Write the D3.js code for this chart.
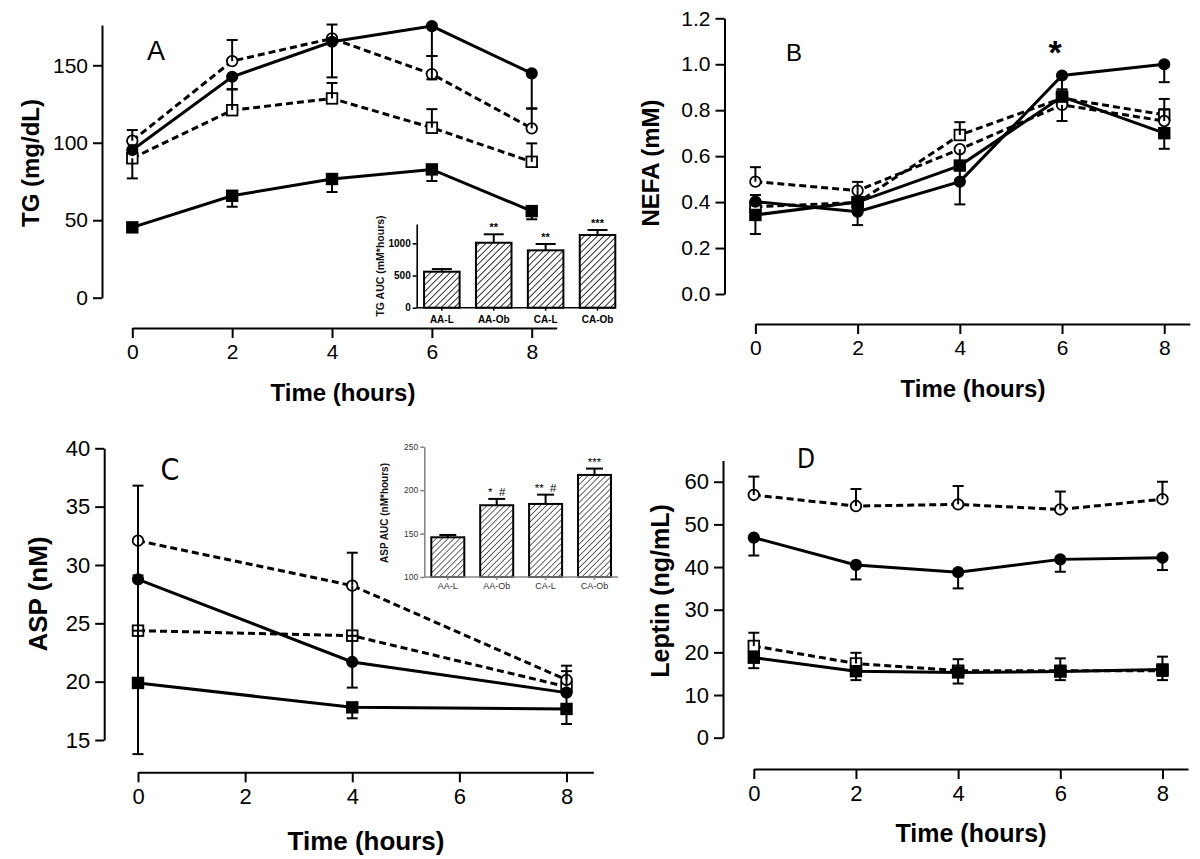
<!DOCTYPE html>
<html>
<head>
<meta charset="utf-8">
<script src="https://cdn.jsdelivr.net/npm/d3@7"></script>
<style>
body { margin: 0; background: #fff; }
svg { display: block; }
</style>
</head>
<body>
<svg id="fig" width="1200" height="859"></svg>
<script>
var hours = [0, 2, 4, 6, 8]
var hoursC = [0, 4, 8]
var groups = ['AA-L', 'AA-Ob', 'CA-L', 'CA-Ob']
var xTicks = [0, 2, 4, 6, 8]

// A: TG (mg/dL)
var tgAAL = [45.4, 65.8, 76.6, 82.8, 55.9]
var tgAALUp = [0, 0, 0, 0, 0]
var tgAALDn = [0, 7.1, 8.4, 7.5, 5.3]
var tgAAOb = [95.3, 142.6, 165.2, 175.3, 144.8]
var tgAAObUp = [0, 0, 0, 0, 0]
var tgAAObDn = [0, 8, 23, 19.3, 22.6]
var tgCAL = [90, 121, 128.6, 109.7, 87.7]
var tgCALUp = [0, 13.4, 10, 12, 11.9]
var tgCALDn = [13, 0, 0, 0, 0]
var tgCAOb = [101.3, 152.7, 167.3, 144.3, 109.3]
var tgCAObUp = [6.9, 13.6, 9, 11.7, 12.7]
var tgCAObDn = [0, 0, 0, 3.4, 0]
var tgTicks = [0, 50, 100, 150]

// B: NEFA (mM)
var nefaAAL = [0.344, 0.40, 0.559, 0.859, 0.70]
var nefaAALUp = [0, 0, 0.02, 0.032, 0]
var nefaAALDn = [0.083, 0, 0.07, 0, 0.068]
var nefaAAOb = [0.402, 0.358, 0.489, 0.951, 1.0]
var nefaAAObUp = [0.029, 0, 0, 0, 0]
var nefaAAObDn = [0, 0.058, 0.099, 0.07, 0.078]
var nefaCAL = [0.38, 0.398, 0.692, 0.852, 0.78]
var nefaCALUp = [0, 0, 0.056, 0, 0.069]
var nefaCALDn = [0, 0, 0, 0, 0]
var nefaCAOb = [0.489, 0.45, 0.63, 0.823, 0.753]
var nefaCAObUp = [0.063, 0.038, 0, 0, 0.051]
var nefaCAObDn = [0, 0.05, 0.07, 0.07, 0]
var nefaTicks = [0, 0.2, 0.4, 0.6, 0.8, 1.0, 1.2]

// C: ASP (nM)
var aspAAL = [19.89, 17.8, 17.66]
var aspAALUp = [0, 0, 0]
var aspAALDn = [6.1, 0.94, 1.29]
var aspAAOb = [28.77, 21.69, 19.06]
var aspAAObUp = [0.33, 0, 0]
var aspAAObDn = [4.4, 2.2, 1.4]
var aspCAL = [24.37, 23.94, 19.57]
var aspCALUp = [0, 0, 1.33]
var aspCALDn = [4.5, 2.25, 0]
var aspCAOb = [32.08, 28.23, 20.15]
var aspCAObUp = [4.72, 2.82, 1.22]
var aspCAObDn = [3.3, 4.3, 0]
var aspTicks = [15, 20, 25, 30, 35, 40]

// D: Leptin (ng/mL)
var lepAAL = [18.75, 15.6, 15.3, 15.5, 16.0]
var lepAALUp = [0, 0, 3.1, 3.1, 3.0]
var lepAALDn = [2.45, 2.1, 2.6, 2.0, 2.5]
var lepAAOb = [46.9, 40.5, 38.8, 41.8, 42.2]
var lepAAObUp = [0, 0, 0, 0, 0]
var lepAAObDn = [4.2, 3.4, 3.8, 2.9, 2.9]
var lepCAL = [21.5, 17.4, 15.7, 15.7, 15.7]
var lepCALUp = [3.1, 2.5, 0, 0, 0]
var lepCALDn = [0, 0, 0, 0, 0]
var lepCAOb = [56.9, 54.3, 54.7, 53.5, 55.9]
var lepCAObUp = [4.3, 4.0, 4.3, 4.2, 4.1]
var lepCAObDn = [0, 0, 0, 0, 0]
var lepTicks = [0, 10, 20, 30, 40, 50, 60]

// insets: AUC
var tgAuc = [559, 1009, 891, 1129]
var tgAucErr = [41, 131, 98, 78]
var tgAucSig = ['', '**', '**', '***']
var tgAucTicks = [0, 500, 1000]
var aspAuc = [145.7, 182.6, 184.1, 217.5]
var aspAucErr = [2.7, 7.3, 10.7, 7.3]
var aspAucSig = ['', '*  #', '**  #', '***']
var aspAucTicks = [100, 150, 200, 250]

var FONT = '"Liberation Sans", Arial, Helvetica, sans-serif'

// marker + line style per group
var style = {
  'AA-L':  {shape: 'square', fill: '#000', dash: null},
  'AA-Ob': {shape: 'circle', fill: '#000', dash: null},
  'CA-L':  {shape: 'square', fill: '#fff', dash: '7,4'},
  'CA-Ob': {shape: 'circle', fill: '#fff', dash: '7,4'}
}

var svg = d3.select('#fig')

var defs = svg.append('defs')
function hatch(id, gap, w){
  defs.append('pattern').attr('id', id)
    .attr('patternUnits', 'userSpaceOnUse')
    .attr('width', gap).attr('height', gap)
    .attr('patternTransform', 'rotate(45)')
    .append('line').attr('x1', 0).attr('y1', -1).attr('x2', 0).attr('y2', gap + 1)
    .attr('stroke', '#000').attr('stroke-width', w)
}
hatch('hatchA', 4.6, 1.6)
hatch('hatchC', 4.2, 1.2)

function series(t, vals, up, dn){
  return t.map(function(d, i){ return {t: d, v: vals[i], up: up[i], dn: dn[i]} })
}

function drawPanel(p){
  var g = svg.append('g')
  var x = d3.scaleLinear().domain([0, 8.5]).range(p.xRange)
  var y = d3.scaleLinear().domain(p.yDomain).range(p.yRange)

  var yAx = g.append('g').attr('transform', 'translate(' + p.yAxisX + ',0)')
    .call(d3.axisLeft(y).tickValues(p.yTicks).tickSize(9).tickPadding(5).tickSizeOuter(0).tickFormat(p.yFormat))
  var xAx = g.append('g').attr('transform', 'translate(0,' + p.xAxisY + ')')
    .call(d3.axisBottom(x).tickValues(xTicks).tickSize(10).tickPadding(6).tickSizeOuter(0).tickFormat(d3.format('d')))
  ;[yAx, xAx].forEach(function(a){
    a.attr('font-family', FONT).attr('font-size', p.tickFont)
    a.selectAll('.domain, .tick line').attr('stroke', '#000').attr('stroke-width', 2)
    a.selectAll('.tick text').attr('fill', '#000')
  })

  var line = d3.line().x(function(d){ return x(d.t) }).y(function(d){ return y(d.v) })

  p.series.forEach(function(s){
    var st = style[s.name]
    g.append('path').attr('d', line(s.data)).attr('fill', 'none')
      .attr('stroke', '#000').attr('stroke-width', 3)
      .attr('stroke-dasharray', st.dash)
  })

  p.series.forEach(function(s){
    var st = style[s.name]
    s.data.forEach(function(d){
      var cx = x(d.t), cy = y(d.v)
      if (st.shape == 'circle'){
        g.append('circle').attr('cx', cx).attr('cy', cy)
          .attr('r', st.fill == '#000' ? 5.2 : 5.3)
          .attr('fill', st.fill).attr('stroke', '#000').attr('stroke-width', 1.8)
      } else {
        g.append('rect').attr('x', cx - 5.3).attr('y', cy - 5.3).attr('width', 10.6).attr('height', 10.6)
          .attr('fill', st.fill).attr('stroke', '#000').attr('stroke-width', 1.8)
      }
    })
  })

  p.series.forEach(function(s){
    s.data.forEach(function(d){
      var cx = x(d.t)
      ;[[d.up, 1], [d.dn, -1]].forEach(function(e){
        if (!e[0]) return
        var ye = y(d.v + e[1] * e[0])
        g.append('line').attr('x1', cx).attr('x2', cx).attr('y1', y(d.v)).attr('y2', ye)
          .attr('stroke', '#000').attr('stroke-width', 2)
        g.append('line').attr('x1', cx - 5.5).attr('x2', cx + 5.5).attr('y1', ye).attr('y2', ye)
          .attr('stroke', '#000').attr('stroke-width', 2)
      })
    })
  })

  g.append('text').text(p.yTitle)
    .attr('transform', 'translate(' + p.yTitlePos[0] + ',' + p.yTitlePos[1] + ') rotate(-90)')
    .attr('text-anchor', 'middle').attr('dy', '0.36em')
    .attr('font-family', FONT).attr('font-weight', 'bold').attr('font-size', p.titleFont)
  g.append('text').text('Time (hours)')
    .attr('x', p.xTitlePos[0]).attr('y', p.xTitlePos[1])
    .attr('text-anchor', 'middle').attr('dy', '0.36em')
    .attr('font-family', FONT).attr('font-weight', 'bold').attr('font-size', p.titleFont)
  g.append('text').text(p.letter)
    .attr('x', p.letterPos[0]).attr('y', p.letterPos[1])
    .attr('text-anchor', 'middle').attr('dy', '0.36em')
    .attr('font-family', p.letterFont).attr('font-size', p.letterSize)
  return g
}

function drawInset(p){
  var g = svg.append('g')
  var x = d3.scaleBand().domain(groups).range(p.xRange)
    .paddingInner(p.pi).paddingOuter(p.po).align(p.align)
  var y = d3.scaleLinear().domain(p.yDomain).range(p.yRange)

  g.selectAll('rect.bar').data(p.vals).enter().append('rect')
    .attr('x', function(d, i){ return x(groups[i]) })
    .attr('width', x.bandwidth())
    .attr('y', function(d){ return y(d) })
    .attr('height', function(d){ return y(p.yDomain[0]) - y(d) })
    .attr('fill', 'url(#' + p.hatch + ')')
    .attr('stroke', '#000').attr('stroke-width', 2)

  p.vals.forEach(function(v, i){
    var cx = x(groups[i]) + x.bandwidth() / 2
    var ye = y(v + p.errs[i])
    g.append('line').attr('x1', cx).attr('x2', cx).attr('y1', y(v)).attr('y2', ye)
      .attr('stroke', '#000').attr('stroke-width', 2)
    g.append('line').attr('x1', cx - p.cap).attr('x2', cx + p.cap).attr('y1', ye).attr('y2', ye)
      .attr('stroke', '#000').attr('stroke-width', 2)
    g.append('text').text(p.sig[i]).attr('x', cx).attr('y', ye - 3)
      .attr('text-anchor', 'middle').attr('font-family', FONT)
      .attr('font-weight', p.bold ? 'bold' : 'normal')
      .attr('font-size', p.sigFont).attr('fill', '#000')
      .style('white-space', 'pre')
    g.append('text').text(groups[i]).attr('x', cx).attr('y', p.catY)
      .attr('text-anchor', 'middle').attr('dy', '0.36em').attr('font-family', FONT)
      .attr('font-weight', p.bold ? 'bold' : 'normal')
      .attr('font-size', p.catFont).attr('fill', p.textColor)
    g.append('line').attr('x1', cx).attr('x2', cx)
      .attr('y1', y(p.yDomain[0])).attr('y2', y(p.yDomain[0]) + 3)
      .attr('stroke', p.axisColor).attr('stroke-width', 1.5)
  })

  g.append('line').attr('x1', p.xRange[0]).attr('x2', p.xRange[1])
    .attr('y1', y(p.yDomain[0])).attr('y2', y(p.yDomain[0]))
    .attr('stroke', p.axisColor).attr('stroke-width', 1.6)

  var yAx = g.append('g').attr('transform', 'translate(' + p.xRange[0] + ',0)')
    .call(d3.axisLeft(y).tickValues(p.yTicks).tickSize(4).tickPadding(2).tickSizeOuter(0).tickFormat(d3.format('d')))
  yAx.attr('font-family', FONT).attr('font-size', p.tickFont)
    .attr('font-weight', p.bold ? 'bold' : 'normal')
  yAx.selectAll('.domain, .tick line').attr('stroke', p.axisColor).attr('stroke-width', 1.6)
  yAx.selectAll('.tick text').attr('fill', p.textColor)

  g.append('text').text(p.yTitle)
    .attr('transform', 'translate(' + p.yTitlePos[0] + ',' + p.yTitlePos[1] + ') rotate(-90)')
    .attr('text-anchor', 'middle').attr('dy', '0.36em')
    .attr('font-family', FONT).attr('font-weight', 'bold').attr('font-size', p.titleFont)
    .attr('fill', '#111')
}

function fourSeries(t, a, aU, aD, b, bU, bD, c, cU, cD, d, dU, dD){
  return [
    {name: 'CA-L', data: series(t, c, cU, cD)},
    {name: 'CA-Ob', data: series(t, d, dU, dD)},
    {name: 'AA-L', data: series(t, a, aU, aD)},
    {name: 'AA-Ob', data: series(t, b, bU, bD)}
  ]
}

// A
drawPanel({
  xRange: [132.3, 556.7], yDomain: [0, 176], yRange: [297.7, 25],
  yAxisX: 102, xAxisY: 328, yTicks: tgTicks, yFormat: d3.format('d'),
  tickFont: 21, titleFont: 24,
  yTitle: 'TG (mg/dL)', yTitlePos: [30, 163], xTitlePos: [343, 392],
  letter: 'A', letterPos: [156, 50], letterFont: FONT, letterSize: 27,
  series: fourSeries(hours, tgAAL, tgAALUp, tgAALDn, tgAAOb, tgAAObUp, tgAAObDn,
    tgCAL, tgCALUp, tgCALDn, tgCAOb, tgCAObUp, tgCAObDn)
})

// B
var gB = drawPanel({
  xRange: [755.4, 1189.8], yDomain: [0, 1.2], yRange: [294, 18.3],
  yAxisX: 724.5, xAxisY: 324, yTicks: nefaTicks, yFormat: d3.format('.1f'),
  tickFont: 21, titleFont: 24,
  yTitle: 'NEFA (mM)', yTitlePos: [650, 163], xTitlePos: [973, 388],
  letter: 'B', letterPos: [794, 52], letterFont: FONT, letterSize: 24,
  series: fourSeries(hours, nefaAAL, nefaAALUp, nefaAALDn, nefaAAOb, nefaAAObUp, nefaAAObDn,
    nefaCAL, nefaCALUp, nefaCALDn, nefaCAOb, nefaCAObUp, nefaCAObDn)
})
gB.append('text').text('*').attr('x', 1055).attr('y', 64)
  .attr('text-anchor', 'middle').attr('font-family', FONT)
  .attr('font-weight', 'bold').attr('font-size', 34)

// C
drawPanel({
  xRange: [138, 593.3], yDomain: [15, 40], yRange: [740, 448.3],
  yAxisX: 104.2, xAxisY: 772.3, yTicks: aspTicks, yFormat: d3.format('d'),
  tickFont: 22, titleFont: 26,
  yTitle: 'ASP (nM)', yTitlePos: [38, 594], xTitlePos: [366, 841],
  letter: 'C', letterPos: [170, 469], letterFont: '"DejaVu Sans Condensed", "DejaVu Sans", sans-serif', letterSize: 30,
  series: fourSeries(hoursC, aspAAL, aspAALUp, aspAALDn, aspAAOb, aspAAObUp, aspAAObDn,
    aspCAL, aspCALUp, aspCALDn, aspCAOb, aspCAObUp, aspCAObDn)
})

// D
drawPanel({
  xRange: [753.8, 1188], yDomain: [0, 65], yRange: [737.7, 460.4],
  yAxisX: 723, xAxisY: 769, yTicks: lepTicks, yFormat: d3.format('d'),
  tickFont: 22, titleFont: 25,
  yTitle: 'Leptin (ng/mL)', yTitlePos: [660, 591], xTitlePos: [971, 833],
  letter: 'D', letterPos: [806, 459], letterFont: '"DejaVu Sans Condensed", "DejaVu Sans", sans-serif', letterSize: 26,
  series: fourSeries(hours, lepAAL, lepAALUp, lepAALDn, lepAAOb, lepAAObUp, lepAAObDn,
    lepCAL, lepCALUp, lepCALDn, lepCAOb, lepCAObUp, lepCAObDn)
})

// inset in A
drawInset({
  xRange: [416.7, 615.3], pi: 0.315, po: 0.071, align: 1,
  yDomain: [0, 1300], yRange: [307.7, 224], yTicks: tgAucTicks,
  vals: tgAuc, errs: tgAucErr, sig: tgAucSig, cap: 10,
  hatch: 'hatchA', bold: true, axisColor: '#000', textColor: '#000',
  tickFont: 10, catFont: 10, sigFont: 11, titleFont: 10.5, catY: 319,
  yTitle: 'TG AUC (mM*hours)', yTitlePos: [380, 266]
})

// inset in C
drawInset({
  xRange: [424.3, 618], pi: 0.325, po: 0.143, align: 0.5,
  yDomain: [100, 250], yRange: [577, 446.7], yTicks: aspAucTicks,
  vals: aspAuc, errs: aspAucErr, sig: aspAucSig, cap: 8.5,
  hatch: 'hatchC', bold: false, axisColor: '#888', textColor: '#333',
  tickFont: 8.5, catFont: 9, sigFont: 11.5, titleFont: 10, catY: 586,
  yTitle: 'ASP AUC (nM*hours)', yTitlePos: [384, 513]
})
</script>
</body>
</html>
